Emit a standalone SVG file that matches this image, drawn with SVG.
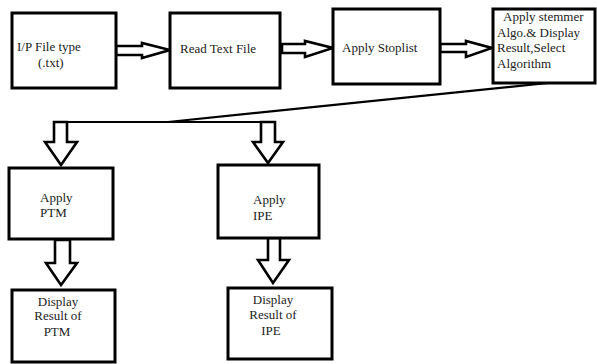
<svg xmlns="http://www.w3.org/2000/svg" width="597" height="364" viewBox="0 0 597 364">
<style>
.box{fill:#fff;stroke:#000;stroke-width:3}
.arr{fill:#fff;stroke:#000;stroke-width:2.6;stroke-linejoin:miter}
.ln{fill:none;stroke:#000;stroke-width:2.2}
text{font-family:"Liberation Serif","Times New Roman",serif;font-size:13px;fill:#222}
.c{text-anchor:middle}
</style>
<rect width="597" height="364" fill="#fff"/>
<g id="connectors">
<polygon class="arr" points="116,46 142,46 142,43 170,50 142,58 142,55 116,55"/>
<polygon class="arr" points="282,44 305,44 305,41 333,48 305,57 305,53 282,53"/>
<polygon class="arr" points="440,44 466,44 466,41 492,48 466,57 466,52 440,52"/>
<path class="ln" d="M548,83 L168,122"/>
<polyline class="ln" points="54,122 275,122"/>
<polygon class="arr" points="54,122 67,122 67,142 77,142 61,165 45,142 54,142"/>
<polygon class="arr" points="261,122 275,122 275,142 283,142 268,163 253,142 261,142"/>
<polygon class="arr" points="55,240 70,240 70,263 77,263 61,285 46,263 55,263"/>
<polygon class="arr" points="268,238 280,238 280,260 289,260 273,283 258,260 268,260"/>
</g>
<g id="n1"><rect class="box" x="12" y="13" width="104" height="75"/><text x="17" y="51">I/P File type</text><text x="38" y="67">(.txt)</text></g>
<g id="n2"><rect class="box" x="170" y="13" width="110" height="75"/><text x="180" y="53">Read Text File</text></g>
<g id="n3"><rect class="box" x="333" y="9" width="107" height="75"/><text x="342" y="52">Apply Stoplist</text></g>
<g id="n4"><rect class="box" x="493" y="9" width="102" height="74"/><text x="503" y="21">Apply stemmer</text><text x="497" y="37">Algo.&amp; Display</text><text x="497" y="52">Result,Select</text><text x="497" y="68">Algorithm</text></g>
<g id="n5"><rect class="box" x="9" y="168" width="104" height="71"/><text x="40" y="202">Apply</text><text x="40" y="217">PTM</text></g>
<g id="n6"><rect class="box" x="218" y="165" width="101" height="73"/><text x="253" y="204">Apply</text><text x="253" y="220">IPE</text></g>
<g id="n7"><rect class="box" x="12" y="290" width="103" height="72"/><text class="c" x="58" y="306">Display</text><text class="c" x="58" y="320">Result of</text><text class="c" x="57" y="336">PTM</text></g>
<g id="n8"><rect class="box" x="228" y="288" width="104" height="71"/><text class="c" x="273" y="304">Display</text><text class="c" x="273" y="319">Result of</text><text class="c" x="271" y="335">IPE</text></g>
</svg>
